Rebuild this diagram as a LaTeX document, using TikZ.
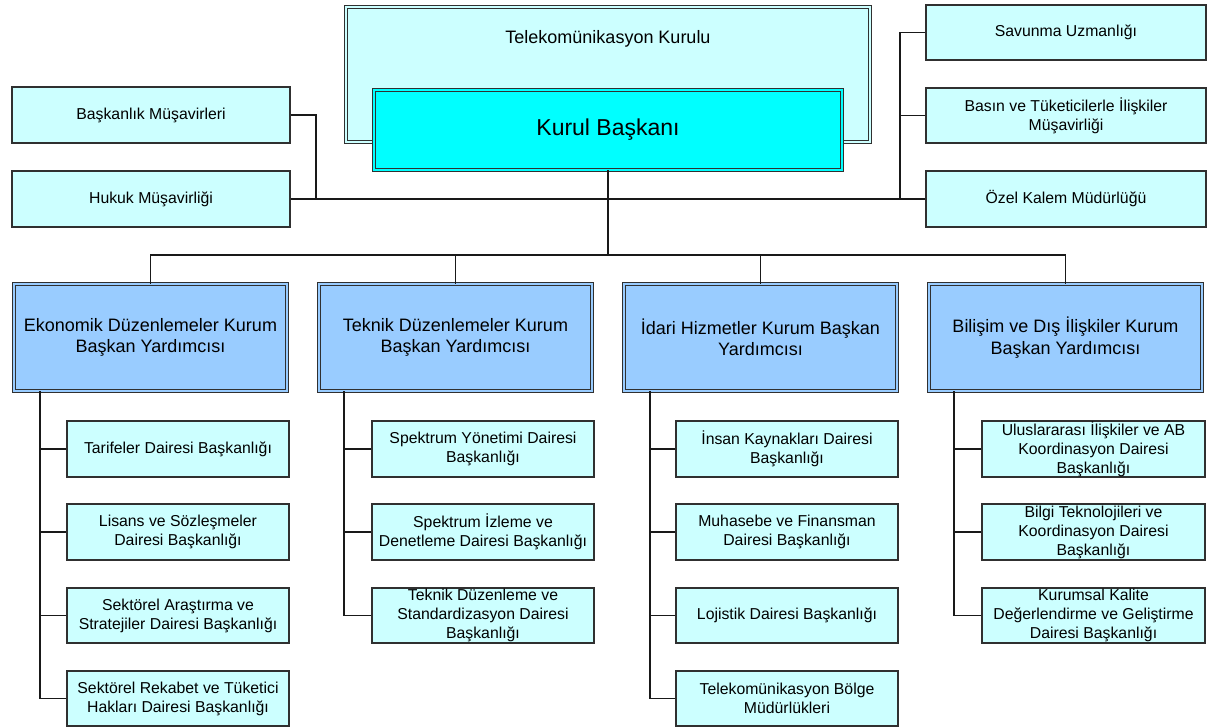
\documentclass[tikz,border=0pt]{standalone}
\usepackage{fontspec}
\setmainfont{Liberation Sans}
\definecolor{lc}{HTML}{CCFFFF}
\definecolor{cy}{HTML}{00FFFF}
\definecolor{vp}{HTML}{99CCFF}
\definecolor{bd}{HTML}{303030}
\newcommand\bx[7]{\node[#2, minimum width={(#5-#3)*1pt}, minimum height={(#6-#4)*1pt}] (#1) at ({(#3+#5)/2},{(#4+#6)/2}) {#7};}
\begin{document}
\begin{tikzpicture}[x=1pt,y=-1pt,
 plain/.style={draw=bd, line width=1.2pt, fill=lc, inner sep=0pt, align=center, font=\fontsize{15.8}{19}\selectfont},
 dbl/.style={draw=bd, line width=0.8pt, double distance=2pt, inner sep=0pt, align=center},
 vpbox/.style={dbl, double=vp, fill=vp, font=\fontsize{18}{21.5}\selectfont},
 topbox/.style={dbl, double=lc, fill=lc},
 chairbox/.style={dbl, double=cy, fill=cy, font=\fontsize{23}{27}\selectfont},
 wire/.style={draw=black!90, line width=1.1pt}]
\useasboundingbox (0,0) rectangle (1208,727);
% top
\bx{tk}{topbox, label={[anchor=center, yshift=-32pt, font=\fontsize{18}{21}\selectfont]north:Telekomünikasyon Kurulu}}{346}{7}{870}{142}{}
\bx{kb}{chairbox}{374}{90}{842}{170}{Kurul Başkanı}
% left advisers
\bx{bm}{plain}{12}{87}{290}{143}{Başkanlık Müşavirleri}
\bx{hm}{plain}{12}{171}{290}{227}{Hukuk Müşavirliği}
% right advisers
\bx{su}{plain}{926}{5}{1206}{60}{Savunma Uzmanlığı}
\bx{bt}{plain}{926}{88}{1206}{143}{Basın ve Tüketicilerle İlişkiler\\Müşavirliği}
\bx{ok}{plain}{926}{171}{1206}{227}{Özel Kalem Müdürlüğü}
% vice presidents
\bx{vpa}{vpbox}{14}{284}{287}{391}{Ekonomik Düzenlemeler Kurum\\Başkan Yardımcısı}
\bx{vpb}{vpbox}{319}{284}{592}{391}{Teknik Düzenlemeler Kurum\\Başkan Yardımcısı}
\bx{vpc}{vpbox}{624}{284}{897}{391}{İdari Hizmetler Kurum Başkan\\Yardımcısı}
\bx{vpd}{vpbox}{929}{284}{1202}{391}{Bilişim ve Dış İlişkiler Kurum\\Başkan Yardımcısı}
% column 1
\bx{ca1}{plain}{67}{421}{289}{477}{Tarifeler Dairesi Başkanlığı}
\bx{ca2}{plain}{67}{504}{289}{560}{Lisans ve Sözleşmeler\\Dairesi Başkanlığı}
\bx{ca3}{plain}{67}{588}{289}{643}{Sektörel Araştırma ve\\Stratejiler Dairesi Başkanlığı}
\bx{ca4}{plain}{67}{671}{289}{726}{Sektörel Rekabet ve Tüketici\\Hakları Dairesi Başkanlığı}
% column 2
\bx{cb1}{plain}{372}{421}{594}{477}{Spektrum Yönetimi Dairesi\\Başkanlığı}
\bx{cb2}{plain}{372}{504}{594}{560}{Spektrum İzleme ve\\Denetleme Dairesi Başkanlığı}
\bx{cb3}{plain}{372}{588}{594}{643}{Teknik Düzenleme ve\\Standardizasyon Dairesi\\Başkanlığı}
% column 3
\bx{cc1}{plain}{676}{421}{898}{477}{İnsan Kaynakları Dairesi\\Başkanlığı}
\bx{cc2}{plain}{676}{504}{898}{560}{Muhasebe ve Finansman\\Dairesi Başkanlığı}
\bx{cc3}{plain}{676}{588}{898}{643}{Lojistik Dairesi Başkanlığı}
\bx{cc4}{plain}{676}{671}{898}{726}{Telekomünikasyon Bölge\\Müdürlükleri}
% column 4
\bx{cd1}{plain}{982}{421}{1205}{477}{Uluslararası İlişkiler ve AB\\Koordinasyon Dairesi\\Başkanlığı}
\bx{cd2}{plain}{982}{504}{1205}{560}{Bilgi Teknolojileri ve\\Koordinasyon Dairesi\\Başkanlığı}
\bx{cd3}{plain}{982}{588}{1205}{643}{Kurumsal Kalite\\Değerlendirme ve Geliştirme\\Dairesi Başkanlığı}
% junction coordinates
\coordinate (lx) at (316,0);
\coordinate (rx) at (900,0);
\coordinate (bus) at (608,255);
\coordinate (ta) at (40,0);
\coordinate (tb) at (344,0);
\coordinate (tc) at (650,0);
\coordinate (td) at (954,0);
% connectors: advisers
\draw[wire] (bm.east) -- (bm.east -| lx) -- (hm.east -| lx);
\draw[wire] (hm.east) -- (ok.west);
\draw[wire] (su.west) -- (su.west -| rx) -- (ok.west -| rx);
\draw[wire] (bt.west) -- (bt.west -| rx);
% chair to bus
\draw[wire] (kb.south) -- (bus);
\draw[wire] (vpa.north) -- (vpa.north |- bus) -- (vpd.north |- bus) -- (vpd.north);
\draw[wire] (vpb.north) -- (vpb.north |- bus);
\draw[wire] (vpc.north) -- (vpc.north |- bus);
% column trunks
\draw[wire] (vpa.south -| ta) -- (ca4.west -| ta) -- (ca4.west);
\foreach \n in {ca1,ca2,ca3} \draw[wire] (\n.west) -- (\n.west -| ta);
\draw[wire] (vpb.south -| tb) -- (cb3.west -| tb) -- (cb3.west);
\foreach \n in {cb1,cb2} \draw[wire] (\n.west) -- (\n.west -| tb);
\draw[wire] (vpc.south -| tc) -- (cc4.west -| tc) -- (cc4.west);
\foreach \n in {cc1,cc2,cc3} \draw[wire] (\n.west) -- (\n.west -| tc);
\draw[wire] (vpd.south -| td) -- (cd3.west -| td) -- (cd3.west);
\foreach \n in {cd1,cd2} \draw[wire] (\n.west) -- (\n.west -| td);
\end{tikzpicture}
\end{document}
